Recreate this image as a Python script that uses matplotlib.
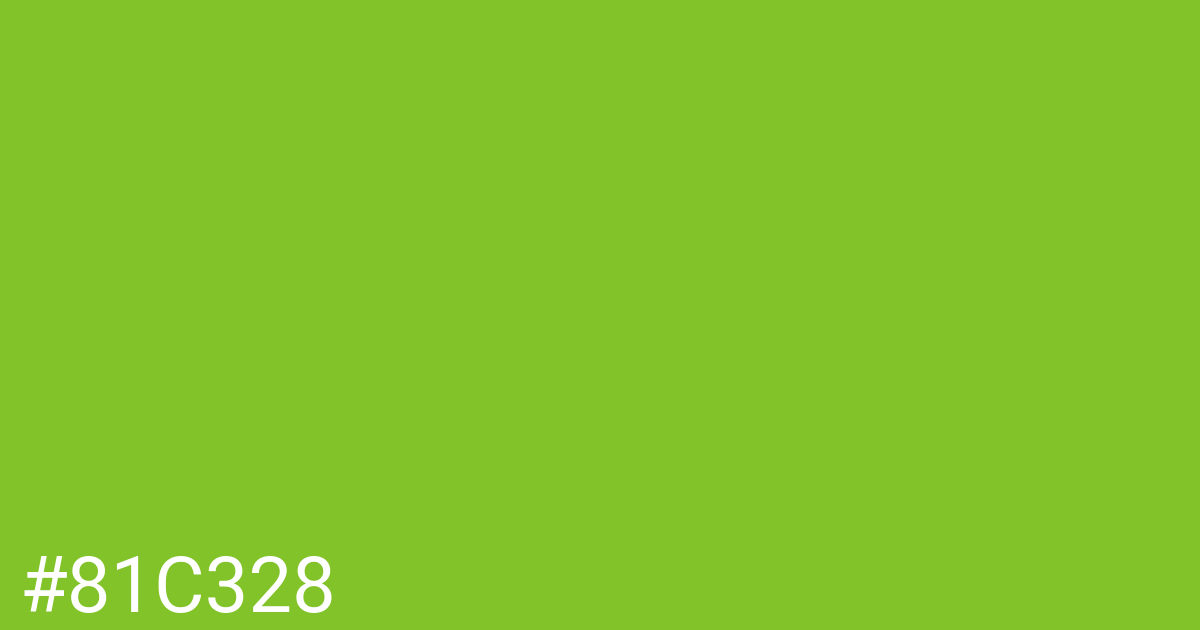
import matplotlib
matplotlib.use("Agg")
import matplotlib.pyplot as plt

swatch_color = "#81C328"
swatch_label = "#81C328"

fig = plt.figure(figsize=(12, 6.3), dpi=100)
fig.patch.set_facecolor(swatch_color)
fig.text(19 / 1200, 18 / 630, swatch_label, color="white", family=["Roboto", "DejaVu Sans"],
         fontsize=56, ha="left", va="baseline")
fig.savefig("out.png", dpi=100, facecolor=swatch_color)
